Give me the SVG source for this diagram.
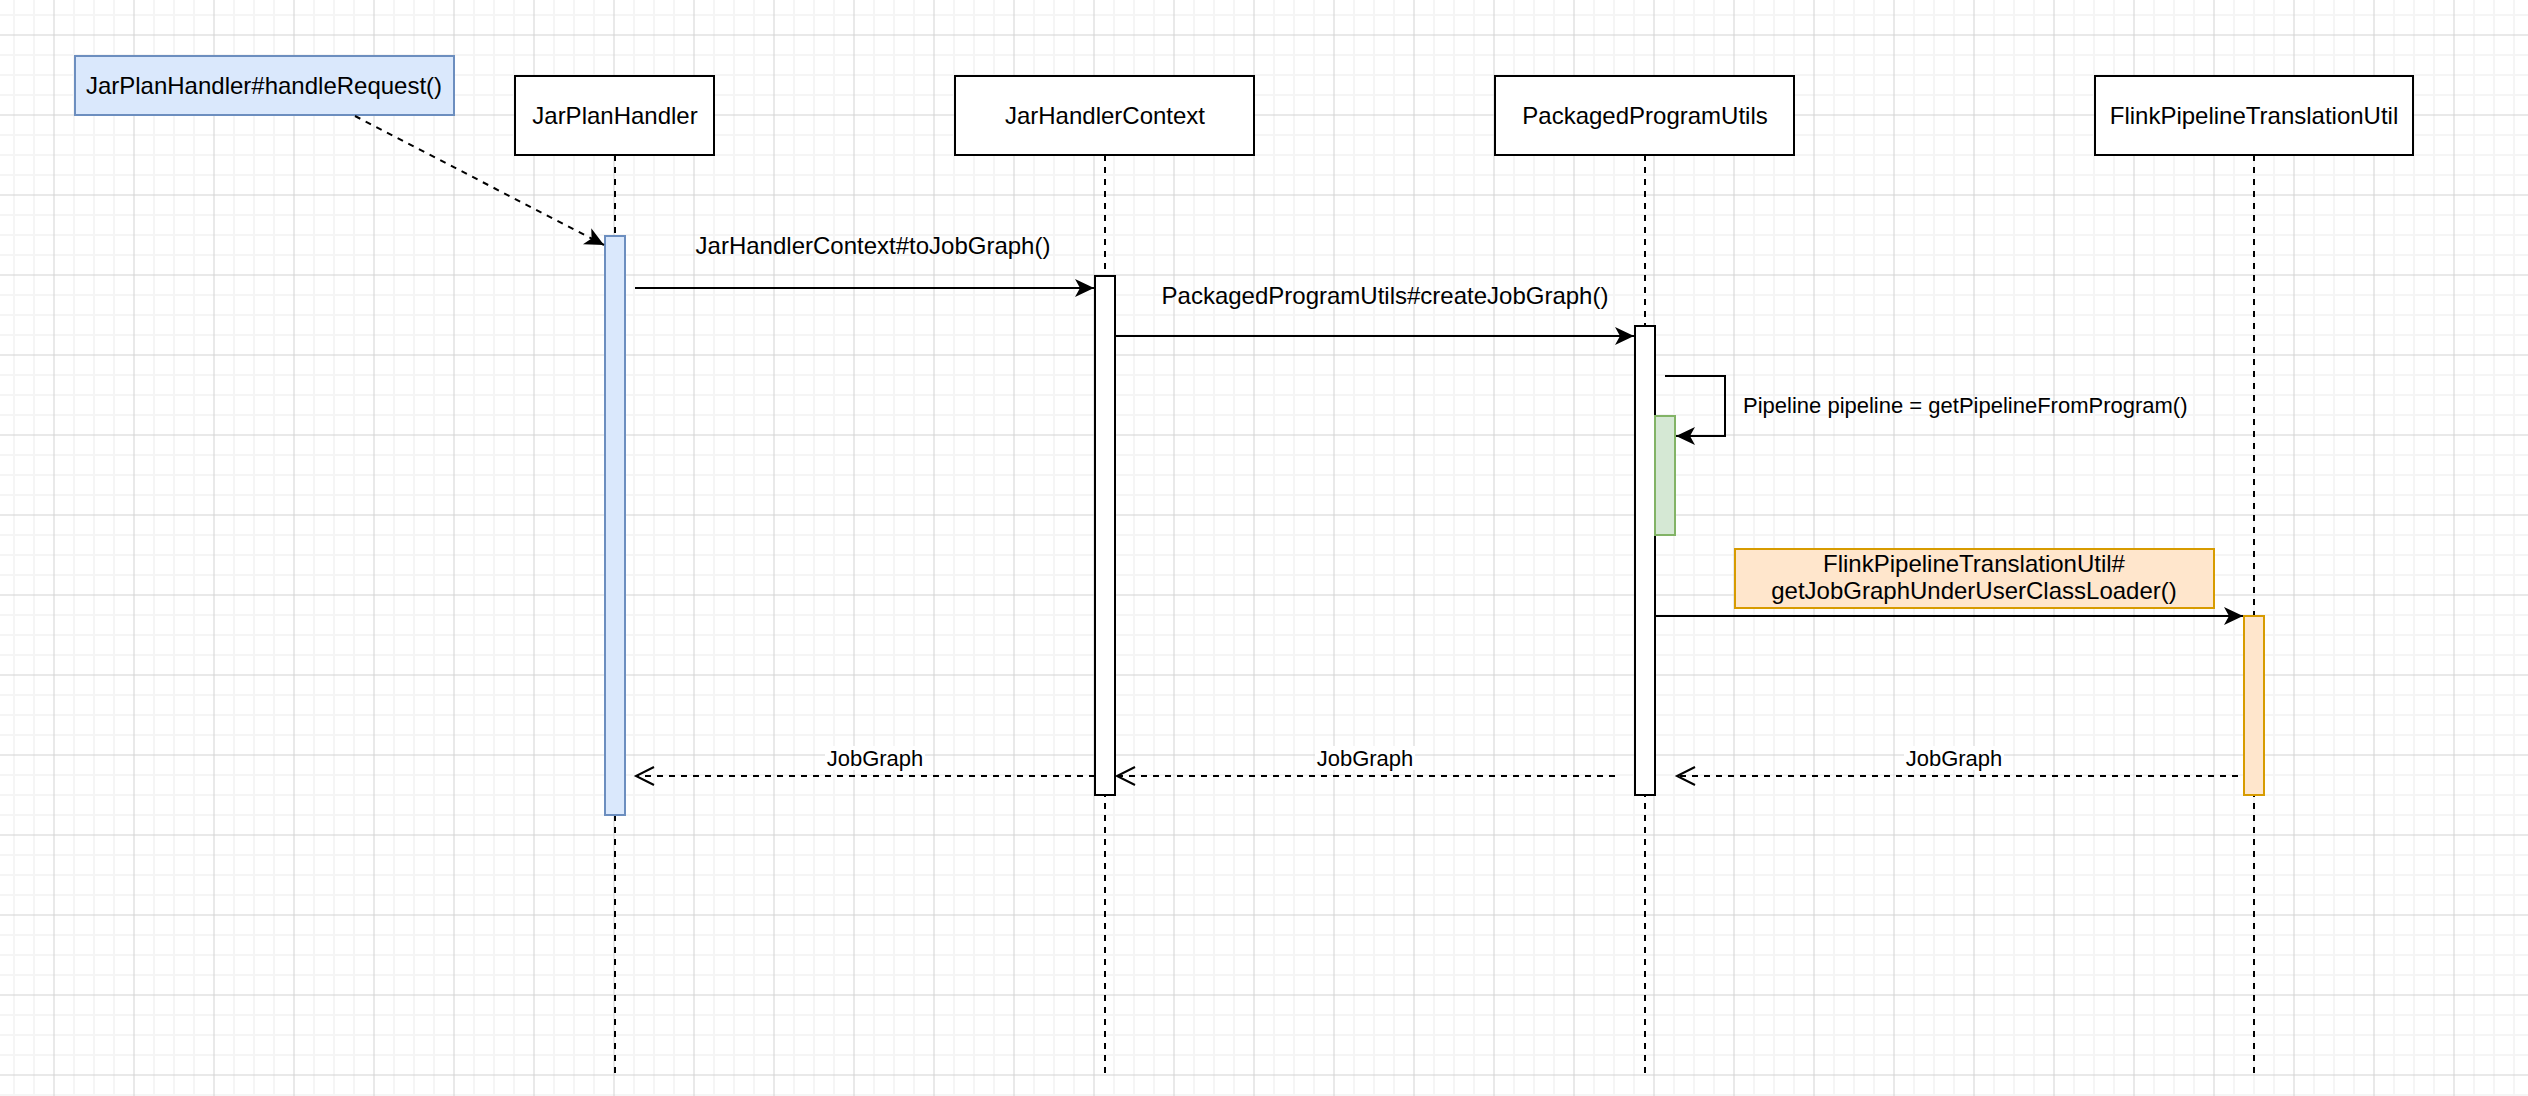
<svg xmlns="http://www.w3.org/2000/svg" width="2528" height="1096" viewBox="0 0 2528 1096">
<defs>
<pattern id="grid" x="4" y="5" width="80" height="80" patternUnits="userSpaceOnUse">
<rect x="0" y="0" width="80" height="80" fill="#ffffff"/>
<rect x="9" y="0" width="2" height="80" fill="#f5f5f5"/>
<rect x="29" y="0" width="2" height="80" fill="#f5f5f5"/>
<rect x="69" y="0" width="2" height="80" fill="#f5f5f5"/>
<rect x="0" y="9" width="80" height="2" fill="#f5f5f5"/>
<rect x="0" y="49" width="80" height="2" fill="#f5f5f5"/>
<rect x="0" y="69" width="80" height="2" fill="#f5f5f5"/>
<rect x="49.5" y="0" width="1" height="80" fill="#d4d4d4"/>
<rect x="0" y="29.5" width="80" height="1" fill="#d4d4d4"/>
</pattern>
<marker id="classic" viewBox="0 0 20 18" refX="19" refY="9" markerWidth="20" markerHeight="18" markerUnits="userSpaceOnUse" orient="auto" overflow="visible">
<path d="M19,9 L0,0 L5,9 L0,18 Z" fill="#000000" stroke="none"/>
</marker>
<marker id="open" viewBox="0 0 18 18" refX="18" refY="9" markerWidth="18" markerHeight="18" markerUnits="userSpaceOnUse" orient="auto" overflow="visible">
<path d="M0,0 L18,9 L0,18" fill="none" stroke="#000000" stroke-width="2"/>
</marker>
</defs>
<style>
text { font-family: "Liberation Sans", Arial, Helvetica, sans-serif; fill: #000000; }
.t24 { font-size: 24px; }
.t22 { font-size: 22px; }
.box { fill: #ffffff; stroke: #000000; stroke-width: 2; }
.life { stroke: #000000; stroke-width: 2; stroke-dasharray: 6 6; fill: none; }
.act { fill: #ffffff; stroke: #000000; stroke-width: 2; }
.blue { fill: #dae8fc; stroke: #6c8ebf; stroke-width: 2; }
.green { fill: #d5e8d4; stroke: #82b366; stroke-width: 2; }
.orange { fill: #ffe6cc; stroke: #d79b00; stroke-width: 2; }
.msg { stroke: #000000; stroke-width: 2; fill: none; }
.ret { stroke: #000000; stroke-width: 2; fill: none; stroke-dasharray: 6 6; }
.lblbg { fill: #ffffff; stroke: none; }
</style>
<rect x="0" y="0" width="2528" height="1096" fill="url(#grid)"/>

<g id="lifelines">
<line class="life" x1="615" y1="155" x2="615" y2="1076"/>
<line class="life" x1="1105" y1="155" x2="1105" y2="1076"/>
<line class="life" x1="1645" y1="155" x2="1645" y2="1076"/>
<line class="life" x1="2254" y1="155" x2="2254" y2="1076"/>
</g>

<g id="node-handleRequest">
<rect class="blue" x="75" y="56" width="379" height="59"/>
<text class="t24" x="264" y="94" text-anchor="middle">JarPlanHandler#handleRequest()</text>
</g>

<g id="node-JarPlanHandler">
<rect class="box" x="515" y="76" width="199" height="79"/>
<text class="t24" x="615" y="124" text-anchor="middle">JarPlanHandler</text>
</g>

<g id="node-JarHandlerContext">
<rect class="box" x="955" y="76" width="299" height="79"/>
<text class="t24" x="1105" y="124" text-anchor="middle">JarHandlerContext</text>
</g>

<g id="node-PackagedProgramUtils">
<rect class="box" x="1495" y="76" width="299" height="79"/>
<text class="t24" x="1645" y="124" text-anchor="middle">PackagedProgramUtils</text>
</g>

<g id="node-FlinkPipelineTranslationUtil">
<rect class="box" x="2095" y="76" width="318" height="79"/>
<text class="t24" x="2254" y="124" text-anchor="middle">FlinkPipelineTranslationUtil</text>
</g>

<g id="act-JarPlanHandler">
<rect class="blue" x="605" y="236" width="20" height="579"/>
</g>
<g id="act-JarHandlerContext">
<rect class="act" x="1095" y="276" width="20" height="519"/>
</g>
<g id="act-PackagedProgramUtils">
<rect class="act" x="1635" y="326" width="20" height="469"/>
</g>
<g id="act-getPipeline">
<rect class="green" x="1655" y="416" width="20" height="119"/>
</g>
<g id="act-FlinkPipelineTranslationUtil">
<rect class="orange" x="2244" y="616" width="20" height="179"/>
</g>

<g id="connectors">
<line class="ret" x1="355" y1="116" x2="604" y2="245" marker-end="url(#classic)"/>

<line class="msg" x1="635" y1="288" x2="1094" y2="288" marker-end="url(#classic)"/>
<text class="t24" x="873" y="254" text-anchor="middle">JarHandlerContext#toJobGraph()</text>

<line class="msg" x1="1115" y1="336" x2="1634" y2="336" marker-end="url(#classic)"/>
<text class="t24" x="1385" y="304" text-anchor="middle">PackagedProgramUtils#createJobGraph()</text>

<polyline class="msg" points="1665,376 1725,376 1725,436 1676,436" marker-end="url(#classic)"/>
<text class="t22" x="1743" y="413">Pipeline pipeline = getPipelineFromProgram()</text>

<line class="msg" x1="1655" y1="616" x2="2243" y2="616" marker-end="url(#classic)"/>
<g id="label-getJobGraph">
<rect class="orange" x="1735" y="549" width="479" height="59"/>
<text class="t24" x="1974" y="572" text-anchor="middle">FlinkPipelineTranslationUtil#</text>
<text class="t24" x="1974" y="599" text-anchor="middle">getJobGraphUnderUserClassLoader()</text>
</g>

<line class="ret" x1="2238" y1="776" x2="1677" y2="776" marker-end="url(#open)"/>
<rect class="lblbg" x="1904" y="746" width="100" height="24"/>
<text class="t22" x="1954" y="766" text-anchor="middle">JobGraph</text>

<line class="ret" x1="1615" y1="776" x2="1117" y2="776" marker-end="url(#open)"/>
<rect class="lblbg" x="1315" y="746" width="100" height="24"/>
<text class="t22" x="1365" y="766" text-anchor="middle">JobGraph</text>

<line class="ret" x1="1095" y1="776" x2="636" y2="776" marker-end="url(#open)"/>
<rect class="lblbg" x="825" y="746" width="100" height="24"/>
<text class="t22" x="875" y="766" text-anchor="middle">JobGraph</text>
</g>
</svg>
